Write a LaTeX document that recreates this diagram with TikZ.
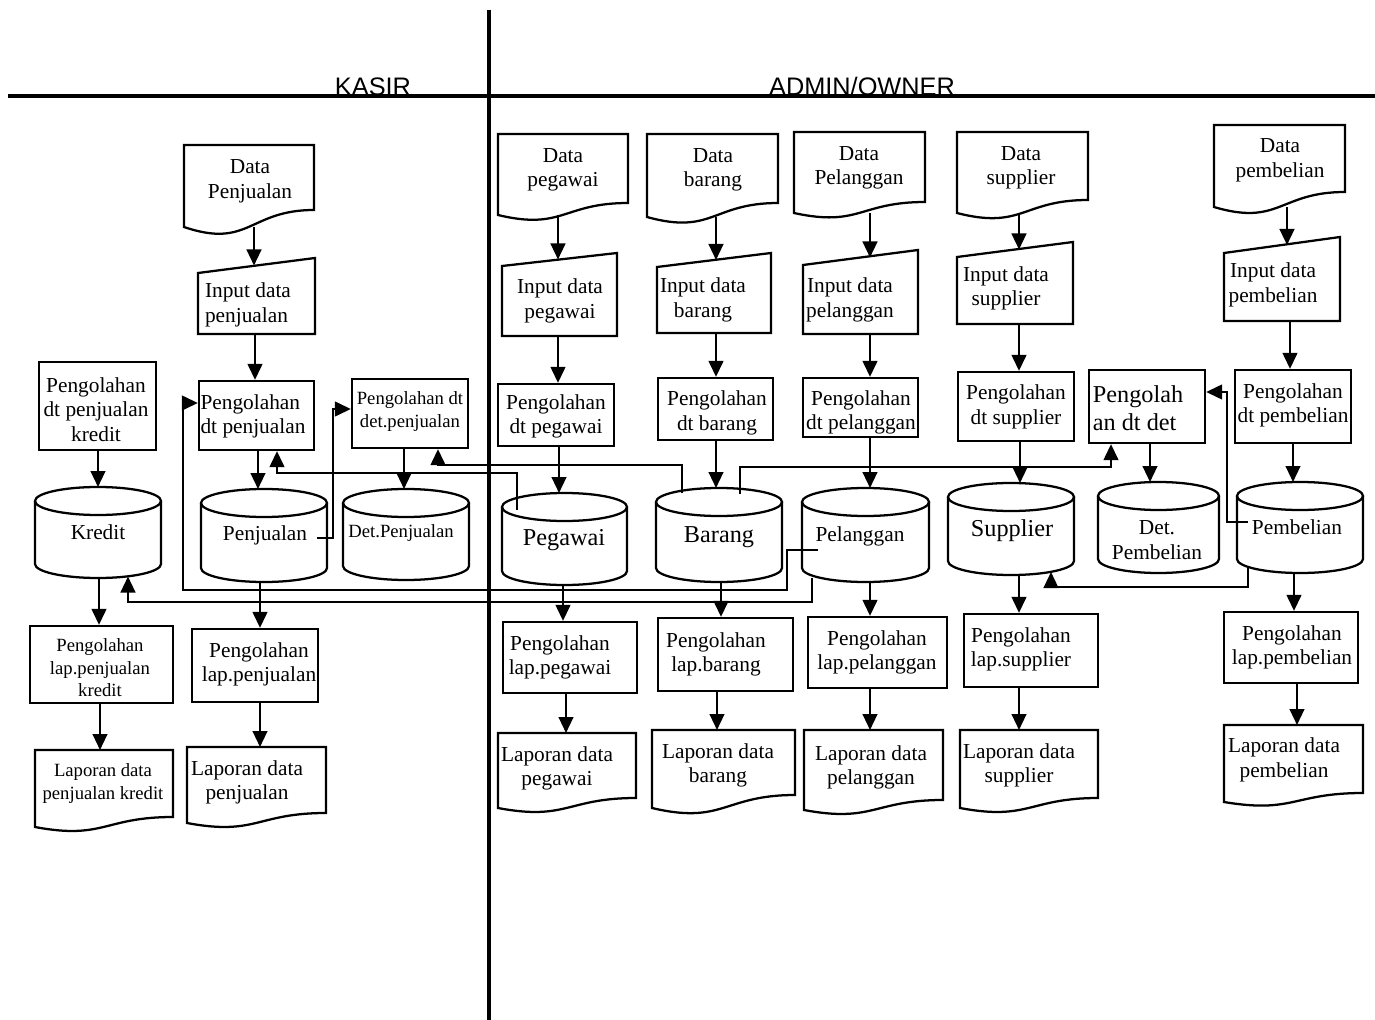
\documentclass[tikz,border=0pt]{standalone}
\usepackage{fontspec}
\setmainfont{Liberation Serif}
\newfontfamily\hdrfont{Liberation Sans}
\usetikzlibrary{arrows.meta,calc,fit}
\newcommand\fsN{\fontsize{16}{18.4}\selectfont}
\newcommand\fsS{\fontsize{14}{16.9}\selectfont}
\newcommand\fsB{\fontsize{18.2}{21}\selectfont}
\tikzset{
  shp/.style={line width=1.7pt},
  arr/.style={line width=1.7pt,-{Triangle[length=12pt,width=11pt]}},
  box/.style={draw,line width=1.7pt,inner sep=0pt},
  area/.style={inner sep=0pt,outer sep=0pt},
  txt/.style={align=center,font=\fsN,inner sep=0pt},
  stxt/.style={align=center,font=\fsS,inner sep=0pt},
  btxt/.style={align=center,font=\fsB,inner sep=0pt},
  lane/.style={line width=3pt},
  lanetxt/.style={font=\hdrfont\fontsize{19}{22}\selectfont,inner sep=0pt,anchor=base}
}
% document shape: name, x1, top, x2, y right bottom, extra drop at left
\newcommand\mydoc[6]{%
  \node[area,fit={(#2,#3) (#4,#5)}] (#1) {};
  \draw[shp] (#1.north west) -- (#1.north east) -- (#1.south east)
    .. controls (#1.south) and ($(#1.south)+(0,2.3*#6)$) .. ($(#1.south west)+(0,#6)$) -- cycle;
  \coordinate (#1-b) at ($(#1.south)+(0,#6)$);
}
% manual input: name, x1, y top left, x2, y top right, bottom
\newcommand\myinput[6]{%
  \node[area,fit={(#2,#3) (#4,#6)}] (#1) {};
  \draw[shp] (#1.south west) -- (#1.north west) -- ($(#1.north east)+(0,#5-#3)$) -- (#1.south east) -- cycle;
  \coordinate (#1-t) at ($(#1.north)+(0,{(#5-#3)/2})$);
}
% cylinder: name, x1, top, x2, bottom
\newcommand\mycyl[5]{%
  \node[area,fit={(#2,#3) (#4,#5)}] (#1) {};
  \pgfmathsetmacro\myrx{(#4-#2)/2}
  \draw[shp] ($(#1.north)+(0,14)$) ellipse[x radius=\myrx, y radius=14];
  \draw[shp] ($(#1.north west)+(0,14)$) -- ($(#1.south west)+(0,-14)$)
    arc[start angle=180, end angle=0, x radius=\myrx, y radius=14] -- ($(#1.north east)+(0,14)$);
}
% vertical arrow: from anchor, to anchor (y), x offset
\newcommand\varr[3]{\draw[arr] ($(#1)+(#3,0)$) -- ($(#1 |- #2)+(#3,0)$);}
\begin{document}
\begin{tikzpicture}[x=0.75pt,y=-0.75pt]
\useasboundingbox (0,0) rectangle (1375,1020);
% swimlane lines
\coordinate (hl) at (8,96);
\coordinate (hr) at (1375,96);
\coordinate (vt) at (489,10);
\coordinate (vb) at (489,1020);
\draw[lane] (hl) -- (hr);
\draw[lane] (vt) -- (vb);
\node[lanetxt] (kasir) at (373,96) {KASIR};
\node[lanetxt] (admin) at (862,96) {ADMIN/OWNER};

% ---------------- KASIR ----------------
\mydoc{dpj}{184}{145}{314}{210}{17}
\node[txt] (dpj-l) at (250,181.5) {Data\\Penjualan};
\myinput{ipj}{198}{273}{315}{258}{334}
\node[txt,align=left] (ipj-l) at (248,305) {Input data\\penjualan};
\node[box,fit={(199,381) (314,450)}] (ppj) {};
\node[txt,align=left] (ppj-l) at (253,416.5) {Pengolahan\\dt penjualan};
\node[box,fit={(39,362) (156,450)}] (pkr) {};
\node[txt] (pkr-l) at (96,409.5) {Pengolahan\\dt penjualan\\kredit};
\node[box,fit={(352,379) (468,448)}] (pdp) {};
\node[stxt] (pdp-l) at (410,411.5) {Pengolahan dt\\det.penjualan};
\mycyl{kre}{35}{487}{161}{578}
\node[txt] (kre-l) at (98,532) {Kredit};
\mycyl{pnj}{201}{489}{327}{582}
\node[txt] (pnj-l) at (265,535) {Penjualan};
\mycyl{dpn}{343}{489}{469}{580}
\node[stxt] (dpn-l) at (401,533) {Det.Penjualan};
\node[box,fit={(30,626) (173,703)}] (lpk) {};
\node[stxt] (lpk-l) at (100,668) {Pengolahan\\lap.penjualan\\kredit};
\node[box,fit={(192,629) (318,702)}] (lpj) {};
\node[txt] (lpj-l) at (259,664.5) {Pengolahan\\lap.penjualan};
\mydoc{rpk}{35}{750}{173}{817}{10}
\node[stxt] (rpk-l) at (103,783.5) {Laporan data\\penjualan kredit};
\mydoc{rdp}{187}{747}{326}{813}{10}
\node[txt] (rdp-l) at (247,782.5) {Laporan data\\penjualan};

% ---------------- ADMIN / OWNER ----------------
\mydoc{dpg}{498}{134}{628}{203}{12}
\node[txt] (dpg-l) at (563,170) {Data\\pegawai};
\mydoc{dbr}{647}{134}{778}{203}{14}
\node[txt] (dbr-l) at (713,170) {Data\\barang};
\mydoc{dpl}{794}{132}{925}{202}{11}
\node[txt] (dpl-l) at (859,168) {Data\\Pelanggan};
\mydoc{dsp}{957}{132}{1088}{200}{13}
\node[txt] (dsp-l) at (1021,168) {Data\\supplier};
\mydoc{dpb}{1214}{125}{1345}{192}{15}
\node[txt] (dpb-l) at (1280,160.5) {Data\\pembelian};

\myinput{ipg}{502}{266}{617}{253}{336}
\node[txt] (ipg-l) at (560,301) {Input data\\pegawai};
\myinput{ibr}{657}{267}{771}{253}{333}
\node[txt] (ibr-l) at (703,300) {Input data\\barang};
\myinput{ipl}{803}{265}{918}{250}{334}
\node[txt] (ipl-l) at (850,300) {Input data\\pelanggan};
\myinput{isp}{957}{257}{1073}{242}{324}
\node[txt] (isp-l) at (1006,288.5) {Input data\\supplier};
\myinput{ipb}{1224}{253}{1340}{237}{321}
\node[txt] (ipb-l) at (1273,285) {Input data\\pembelian};

\node[box,fit={(498,384) (614,446)}] (ppg) {};
\node[txt] (ppg-l) at (556,416.5) {Pengolahan\\dt pegawai};
\node[box,fit={(658,378) (773,440)}] (pbr) {};
\node[txt] (pbr-l) at (717,413) {Pengolahan\\dt barang};
\node[box,fit={(803,378) (918,437)}] (ppl) {};
\node[txt] (ppl-l) at (861,412.5) {Pengolahan\\dt pelanggan};
\node[box,fit={(958,372) (1074,441)}] (psp) {};
\node[txt] (psp-l) at (1016,407) {Pengolahan\\dt supplier};
\node[box,fit={(1089,370) (1205,443)}] (pdt) {};
\node[btxt,align=left] (pdt-l) at (1138,408) {Pengolah\\an dt det};
\node[box,fit={(1235,370) (1351,443)}] (ppb) {};
\node[txt] (ppb-l) at (1293,405.5) {Pengolahan\\dt pembelian};

\mycyl{pgw}{502}{493}{627}{585}
\node[btxt] (pgw-l) at (564,540) {Pegawai};
\mycyl{brg}{656}{488}{782}{582}
\node[btxt] (brg-l) at (719,537) {Barang};
\mycyl{plg}{802}{488}{929}{582}
\node[txt] (plg-l) at (860,536) {Pelanggan};
\mycyl{sup}{948}{483}{1074}{575}
\node[btxt] (sup-l) at (1012,531) {Supplier};
\mycyl{dpm}{1098}{482}{1219}{573}
\node[txt] (dpm-l) at (1157,540) {Det.\\Pembelian};
\mycyl{pmb}{1237}{482}{1363}{573}
\node[txt] (pmb-l) at (1297,527) {Pembelian};

\node[box,fit={(503,622) (637,693)}] (lpg) {};
\node[txt] (lpg-l) at (560,657.5) {Pengolahan\\lap.pegawai};
\node[box,fit={(658,618) (793,691)}] (lbr) {};
\node[txt] (lbr-l) at (716,654.5) {Pengolahan\\lap.barang};
\node[box,fit={(808,617) (947,688)}] (lpl) {};
\node[txt] (lpl-l) at (877,652.5) {Pengolahan\\lap.pelanggan};
\node[box,fit={(964,614) (1098,687)}] (lsp) {};
\node[txt] (lsp-l) at (1021,649.5) {Pengolahan\\lap.supplier};
\node[box,fit={(1224,612) (1358,683)}] (lpb) {};
\node[txt] (lpb-l) at (1292,647.5) {Pengolahan\\lap.pembelian};

\mydoc{rpg}{498}{733}{636}{798}{10}
\node[txt] (rpg-l) at (557,768.5) {Laporan data\\pegawai};
\mydoc{rbr}{652}{730}{795}{795}{13}
\node[txt] (rbr-l) at (718,765.5) {Laporan data\\barang};
\mydoc{rpl}{804}{730}{943}{800}{10}
\node[txt] (rpl-l) at (871,767.5) {Laporan data\\pelanggan};
\mydoc{rsp}{960}{730}{1098}{798}{10}
\node[txt] (rsp-l) at (1019,765.5) {Laporan data\\supplier};
\mydoc{rpb}{1224}{725}{1363}{793}{9}
\node[txt] (rpb-l) at (1284,760) {Laporan data\\pembelian};

% ---------------- vertical arrows ----------------
\varr{dpj-b}{ipj-t}{5}
\varr{ipj.south}{ppj.north}{-1.5}
\varr{ppj.south}{pnj.north}{1.5}
\varr{pkr.south}{kre.north}{0.5}
\varr{pdp.south}{dpn.north}{-6}
\varr{kre.south}{lpk.north}{1}
\varr{pnj.south}{lpj.north}{-4}
\varr{lpk.south}{rpk.north}{-1.5}
\varr{lpj.south}{rdp.north}{5}

\varr{dpg-b}{ipg-t}{-5}
\varr{ipg.south}{ppg.north}{-1.5}
\varr{ppg.south}{pgw.north}{3}
\varr{pgw.south}{lpg.north}{-1.5}
\varr{lpg.south}{rpg.north}{-4}
\varr{dbr-b}{ibr-t}{3.5}
\varr{ibr.south}{pbr.north}{2}
\varr{pbr.south}{brg.north}{0.5}
\varr{brg.south}{lbr.north}{2}
\varr{lbr.south}{rbr.north}{-8.5}
\varr{dpl-b}{ipl-t}{10.5}
\varr{ipl.south}{ppl.north}{9.5}
\varr{ppl.south}{plg.north}{9.5}
\varr{plg.south}{lpl.north}{4.5}
\varr{lpl.south}{rpl.north}{-7.5}
\varr{dsp-b}{isp-t}{-3.5}
\varr{isp.south}{psp.north}{4}
\varr{psp.south}{sup.north}{4}
\varr{sup.south}{lsp.north}{8}
\varr{lsp.south}{rsp.north}{-12}
\varr{pdt.south}{dpm.north}{3}
\varr{dpb-b}{ipb-t}{7.5}
\varr{ipb.south}{ppb.north}{8}
\varr{ppb.south}{pmb.north}{0}
\varr{pmb.south}{lpb.north}{-6}
\varr{lpb.south}{rpb.north}{6}

% ---------------- elbow connectors ----------------
\coordinate (pnj-o) at ($(pnj.east)+(-10,2.5)$);
\coordinate (pdp-i) at ($(pdp.west)+(0,-4.5)$);
\draw[arr] (pnj-o) -- ++(16,0) |- (pdp-i);

\coordinate (plg-o1) at ($(plg.west)+(16,15)$);
\coordinate (ppj-i) at ($(ppj.west)+(0,-12.5)$);
\coordinate (ppj-c) at ($(ppj.west)+(-15,-12.5)$);
\draw[arr] (plg-o1) -- ++(-31,0) -- ++(0,40) -| (ppj-c) -- (ppj-i);

\coordinate (plg-o2) at ($(plg.south)+(-53.5,-4)$);
\coordinate (kre-i) at ($(kre.south)+(30,-1.5)$);
\draw[arr] (plg-o2) -- ++(0,24) -| (kre-i);

\coordinate (pgw-o) at ($(pgw.north west)+(15,17)$);
\coordinate (ppj-i2) at ($(ppj.south)+(20.5,0)$);
\draw[arr] (pgw-o) -- ++(0,-37) -| (ppj-i2);

\coordinate (brg-o1) at ($(brg.north)+(-37,5)$);
\coordinate (pdp-i2) at ($(pdp.south)+(28,0)$);
\draw[arr] (brg-o1) -- ++(0,-28) -| (pdp-i2);

\coordinate (brg-o2) at ($(brg.north)+(21,6)$);
\coordinate (pdt-i) at ($(pdt.south)+(-36,0)$);
\draw[arr] (brg-o2) -- ++(0,-27) -| (pdt-i);

\coordinate (pmb-o1) at ($(pmb.west)+(11,-5.5)$);
\coordinate (pdt-i2) at ($(pdt.east)+(0,-14.5)$);
\draw[arr] (pmb-o1) -- ++(-21,0) |- (pdt-i2);

\coordinate (pmb-o2) at ($(pmb.south)+(-52,-5)$);
\coordinate (sup-i) at ($(sup.south)+(40,-3)$);
\draw[arr] (pmb-o2) -- ++(0,19) -| (sup-i);
\end{tikzpicture}
\end{document}
